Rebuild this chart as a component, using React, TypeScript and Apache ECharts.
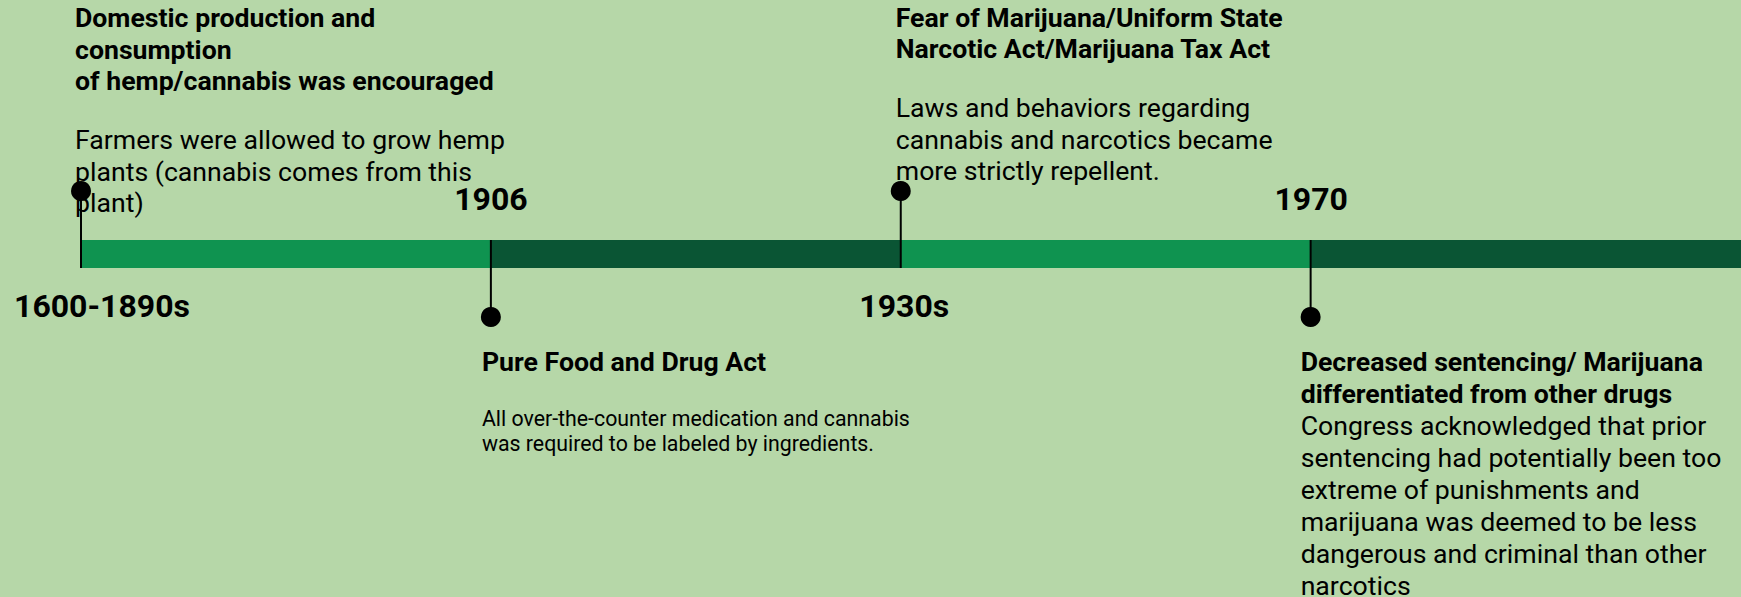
import React, { useEffect, useRef } from "react";
import * as echarts from "echarts";

// ---------------- data ----------------
const periods = ["1600-1890s", "1906", "1930s", "1970"];
const periodPosition = [0, 1, 2, 3];
const markerSide = [1, -1, 1, -1]; // 1 = marker above the bar, -1 = below
const eventTitles = [
  "Domestic production and\nconsumption\nof hemp/cannabis was encouraged",
  "Pure Food and Drug Act",
  "Fear of Marijuana/Uniform State\nNarcotic Act/Marijuana Tax Act",
  "Decreased sentencing/ Marijuana\ndifferentiated from other drugs",
];
const eventBodies = [
  "Farmers were allowed to grow hemp\nplants (cannabis comes from this\nplant)",
  "All over-the-counter medication and cannabis\nwas required to be labeled by ingredients.",
  "Laws and behaviors regarding\ncannabis and narcotics became\nmore strictly repellent.",
  "Congress acknowledged that prior\nsentencing had potentially been too\nextreme of punishments and\nmarijuana was deemed to be less\ndangerous and criminal than other\nnarcotics",
];
const timelineEnd = 4.05;
const segmentStart = [0, 1, 2, 3];
const segmentEnd = [1, 2, 3, timelineEnd];
const segmentTone = [0, 1, 0, 1];

// ---------------- styles ----------------
const W = 1741;
const H = 597;
const BG = "#b6d7a8";
const TONES = ["#0f9350", "#0a5534"];
const BAR_HALF = 14;
const DOT_R = 10;
const FONT = "Roboto, 'Noto Sans', sans-serif";
const CENTRAL = 0.32; // central-baseline offset (em) above alphabetic baseline
const YEAR_FS = 32;
const layout = [
  { yearShift: 21, textShift: -6, titleBase: -227, titleFS: 26.67, titleLH: 31.25, bodyFS: 26.67, bodyGap: 59.5, bodyLH: 31.25 },
  { yearShift: 0, textShift: -9, titleBase: 117, titleFS: 26.67, titleLH: 31.25, bodyFS: 21.33, bodyGap: 54, bodyLH: 25 },
  { yearShift: 3.5, textShift: -5, titleBase: -227.5, titleFS: 26.67, titleLH: 31.3, bodyFS: 26.67, bodyGap: 59, bodyLH: 31.5 },
  { yearShift: 0.5, textShift: -10, titleBase: 117, titleFS: 26.67, titleLH: 32, bodyFS: 26.67, bodyGap: 32, bodyLH: 32 },
];

function textEl(str: string, x: number, baseline: number, fs: number, lh: number, weight: string, align = "left") {
  return {
    type: "text",
    style: {
      text: str,
      x,
      y: baseline - lh / 2 - CENTRAL * fs,
      fontSize: fs,
      fontFamily: FONT,
      fontWeight: weight,
      lineHeight: lh,
      fill: "#000000",
      align,
      verticalAlign: "top",
    },
  };
}

export default function App() {
  const ref = useRef<HTMLDivElement>(null);

  useEffect(() => {
    if (!ref.current) return;
    const chart = echarts.init(ref.current, undefined, { renderer: "svg" });

    const segData = segmentStart.map((s, i) => [s, segmentEnd[i], segmentTone[i]]);
    const eventData = periodPosition.map((p, i) => [p, markerSide[i]]);

    chart.setOption({
      animation: false,
      backgroundColor: BG,
      grid: { left: 81, right: 0, top: 191, bottom: H - 317, containLabel: false },
      xAxis: { type: "value", min: 0, max: timelineEnd, show: false },
      yAxis: { type: "value", min: -1, max: 1, show: false },
      series: [
        {
          type: "custom",
          z: 1,
          data: segData,
          encode: { x: [0, 1] },
          renderItem: (_params: any, api: any) => {
            const a = api.coord([api.value(0), 0]);
            const b = api.coord([api.value(1), 0]);
            return {
              type: "rect",
              shape: { x: a[0], y: a[1] - BAR_HALF, width: b[0] - a[0], height: BAR_HALF * 2 },
              style: { fill: TONES[api.value(2)] },
            };
          },
        },
        {
          type: "custom",
          z: 2,
          data: eventData,
          encode: { x: 0, y: 1 },
          renderItem: (params: any, api: any) => {
            const i = params.dataIndex;
            const L = layout[i];
            const side = api.value(1);
            const base = api.coord([api.value(0), 0]);
            const dot = api.coord([api.value(0), side]);
            const cx = base[0];
            const cy = base[1];
            const children: any[] = [
              {
                type: "line",
                shape: { x1: cx, y1: cy + side * BAR_HALF, x2: cx, y2: dot[1] },
                style: { stroke: "#000000", lineWidth: 2 },
              },
              { type: "circle", shape: { cx, cy: dot[1], r: DOT_R }, style: { fill: "#000000" } },
            ];
            // period label on the opposite side of the marker
            const yearBaseline = side > 0 ? cy + 62.5 : cy - 45;
            children.push(textEl(periods[i], cx + L.yearShift, yearBaseline, YEAR_FS, YEAR_FS, "bold", "center"));
            // event title + body
            const tx = cx + L.textShift;
            const titleBaseline = cy + L.titleBase;
            const titleLines = eventTitles[i].split("\n").length;
            children.push(textEl(eventTitles[i], tx, titleBaseline, L.titleFS, L.titleLH, "bold"));
            const bodyBaseline = titleBaseline + (titleLines - 1) * L.titleLH + L.bodyGap;
            children.push(textEl(eventBodies[i], tx, bodyBaseline, L.bodyFS, L.bodyLH, "normal"));
            return { type: "group", children };
          },
        },
      ],
    });

    return () => chart.dispose();
  }, []);

  return <div ref={ref} style={{ position: "absolute", left: 0, top: 0, width: W, height: H }} />;
}
